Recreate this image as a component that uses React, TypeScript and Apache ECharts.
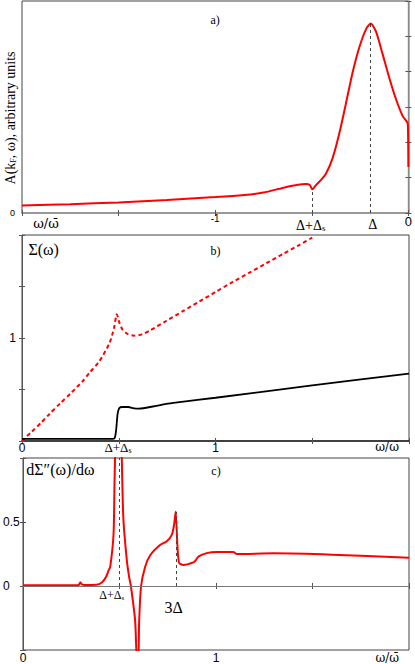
import React, { useEffect, useRef } from 'react';
import * as echarts from 'echarts';

const SERIF = '"Liberation Serif", "Times New Roman", serif';
const SANS = '"Liberation Sans", Arial, sans-serif';

// Panel a: spectral function A(kF, ω)
const aOmega = [-2.0, -1.75, -1.5, -1.25, -1.0, -0.85, -0.75, -0.65, -0.58, -0.53, -0.51, -0.497, -0.478, -0.453, -0.427, -0.393, -0.358, -0.324, -0.289, -0.255, -0.22, -0.195, -0.168, -0.133, -0.099, -0.064, -0.03, -0.01, -0.003, 0.0];
const aSpectral = [0.21, 0.25, 0.30, 0.37, 0.45, 0.51, 0.58, 0.71, 0.79, 0.82, 0.79, 0.67, 0.79, 0.93, 1.11, 1.54, 2.24, 3.08, 3.97, 4.67, 5.19, 5.36, 5.14, 4.49, 3.83, 3.22, 2.75, 2.6, 2.52, 1.30];

// Panel b: Σ(ω) real part (dashed) and imaginary part (solid)
const bOmegaRe = [0, 0.05, 0.1, 0.141, 0.2, 0.25, 0.313, 0.35, 0.4, 0.452, 0.476, 0.49, 0.505, 0.52, 0.545, 0.58, 0.62, 0.659, 0.745, 0.831, 0.917, 1.003, 1.09, 1.176, 1.262, 1.348, 1.435, 1.5];
const bSigmaRe = [0.0, 0.09, 0.18, 0.26, 0.37, 0.46, 0.58, 0.665, 0.775, 0.95, 1.1, 1.23, 1.14, 1.08, 1.04, 1.023, 1.035, 1.07, 1.165, 1.26, 1.355, 1.45, 1.545, 1.635, 1.725, 1.815, 1.905, 1.975];
const bOmegaIm = [0, 0.3, 0.45, 0.477, 0.486, 0.494, 0.503, 0.52, 0.55, 0.572, 0.605, 0.676, 0.745, 0.814, 1.0, 1.5, 2.0];
const bSigmaIm = [0.02, 0.02, 0.02, 0.025, 0.1, 0.26, 0.32, 0.33, 0.33, 0.32, 0.315, 0.335, 0.36, 0.377, 0.42, 0.54, 0.655];

// Panel c: dΣ''(ω)/dω
const cOmega = [0, 0.28, 0.29, 0.297, 0.305, 0.32, 0.38, 0.41, 0.43, 0.443, 0.452, 0.469, 0.474, 0.48, 0.49, 0.505, 0.512, 0.52, 0.538, 0.55, 0.559, 0.581, 0.591, 0.597, 0.602, 0.612, 0.633, 0.659, 0.71, 0.745, 0.771, 0.783, 0.791, 0.8, 0.809, 0.831, 0.883, 0.895, 0.909, 0.952, 1.004, 1.09, 1.107, 1.3, 1.6, 2.0];
const cDeriv = [0.005, 0.005, 0.01, 0.03, 0.012, 0.008, 0.01, 0.03, 0.07, 0.12, 0.15, 0.40, 0.79, 1.2, 1.6, 1.6, 1.0, 0.53, 0.2, 0.07, 0.0, -0.27, -0.6, -0.6, -0.27, 0.0, 0.15, 0.24, 0.32, 0.35, 0.40, 0.48, 0.58, 0.32, 0.18, 0.165, 0.185, 0.2, 0.23, 0.257, 0.265, 0.265, 0.25, 0.255, 0.245, 0.22];

// Marker positions
const aMarks = [{ x: -0.5, top: 0.69 }, { x: -0.195, top: 5.36 }];
const cMarks = [{ x: 0.5, top: 1.0 }, { x: 0.792, top: 0.58 }];

const zip = (xs: number[], ys: number[]) => xs.map((x, i) => [x, ys[i]]);

const RED = '#ff0000';

function xAxisPair(grid: number, min: number, max: number, labels: (v: number) => string, rich: any, lineStyle: any, margin: number) {
  return [
    {
      type: 'value', gridIndex: grid, position: 'bottom', min, max, interval: 0.5,
      axisLine: { show: true, lineStyle },
      axisTick: { show: true, inside: true, length: 3, lineStyle: { color: '#555' } },
      axisLabel: { show: true, margin, formatter: labels, rich, fontFamily: SANS, color: '#000', fontSize: 12, showMinLabel: true, showMaxLabel: true },
      splitLine: { show: false },
    },
    {
      type: 'value', gridIndex: grid, position: 'top', min, max, interval: 0.5,
      axisLine: { show: false },
      axisTick: { show: true, inside: true, length: 3, lineStyle: { color: '#555' } },
      axisLabel: { show: false },
      splitLine: { show: false },
    },
  ];
}

function yAxisPair(grid: number, min: number, max: number, interval: number, labels: (v: number) => string, labelOpts: any, lineStyle: any) {
  return [
    {
      type: 'value', gridIndex: grid, position: 'left', min, max, interval,
      axisLine: { show: true, lineStyle },
      axisTick: { show: true, inside: true, length: 3, lineStyle: { color: '#555' } },
      axisLabel: { show: true, formatter: labels, fontFamily: SANS, color: '#000', showMinLabel: true, showMaxLabel: true, ...labelOpts },
      splitLine: { show: false },
    },
    {
      type: 'value', gridIndex: grid, position: 'right', min, max, interval,
      axisLine: { show: false },
      axisTick: { show: true, inside: true, length: 3, lineStyle: { color: '#555' } },
      axisLabel: { show: false },
      splitLine: { show: false },
    },
  ];
}

const dashMark = {
  silent: true,
  symbol: ['none', 'none'],
  label: { show: false },
  lineStyle: { type: [3, 3], color: '#444', width: 1 },
};

export default function App() {
  const ref = useRef<HTMLDivElement>(null);
  useEffect(() => {
    if (!ref.current) return;
    const chart = echarts.init(ref.current, undefined, { renderer: 'svg' });
    const gridStyle = { show: true, borderColor: '#444', borderWidth: 1, backgroundColor: 'transparent' };
    const option: any = {
      animation: false,
      grid: [
        { left: 22, top: 1, width: 387, height: 212, ...gridStyle },
        { left: 22, top: 235, width: 387, height: 206, ...gridStyle },
        { left: 22, top: 458, width: 387, height: 192, ...gridStyle },
      ],
      xAxis: [
        ...xAxisPair(0, -2, 0, (v: number) => (v === -1 ? '{s|-1}' : v === 0 ? '{b|0}' : ''),
          { s: { fontSize: 10, fontFamily: SANS }, b: { fontSize: 13, fontFamily: SANS, padding: [2, 0, 0, 0] } },
          { color: '#999', width: 2 }, 0),
        ...xAxisPair(1, 0, 2, (v: number) => (v === 0 ? '0' : v === 1 ? '1' : ''), undefined, { color: '#222', width: 1.5 }, 1),
        ...xAxisPair(2, 0, 2, (v: number) => (v === 0 ? '0' : v === 1 ? '1' : ''), undefined, { color: '#555', width: 1 }, 2),
      ],
      yAxis: [
        ...yAxisPair(0, 0, 6, 1, (v: number) => (v === 0 ? '0' : ''), { fontSize: 9, margin: 7 }, { color: '#999', width: 1.5 }),
        ...yAxisPair(1, 0, 2, 0.5, (v: number) => (v === 1 ? '1' : ''), { fontSize: 12, margin: 6 }, { color: '#555', width: 1 }),
        ...yAxisPair(2, -0.5, 1, 0.5, (v: number) => (v === 0.5 ? '0.5' : v === 0 ? '0' : ''), { fontSize: 12, margin: 20, align: 'left' }, { color: '#555', width: 1 }),
      ],
      series: [
        {
          type: 'line', xAxisIndex: 0, yAxisIndex: 0, data: zip(aOmega, aSpectral),
          showSymbol: false, smooth: 0.25, clip: true,
          lineStyle: { color: RED, width: 2 }, itemStyle: { color: RED },
          markLine: { ...dashMark, data: aMarks.map((m) => [{ coord: [m.x, 0] }, { coord: [m.x, m.top] }]) },
        },
        {
          type: 'line', xAxisIndex: 2, yAxisIndex: 2, data: zip(bOmegaRe, bSigmaRe),
          showSymbol: false, smooth: 0.25, clip: true,
          lineStyle: { color: RED, width: 2, type: [4, 3] }, itemStyle: { color: RED },
        },
        {
          type: 'line', xAxisIndex: 2, yAxisIndex: 2, data: zip(bOmegaIm, bSigmaIm),
          showSymbol: false, smooth: 0.25, clip: true,
          lineStyle: { color: '#000', width: 1.8 }, itemStyle: { color: '#000' },
        },
        {
          type: 'line', xAxisIndex: 4, yAxisIndex: 4, data: zip(cOmega, cDeriv),
          showSymbol: false, smooth: 0.25, clip: true,
          lineStyle: { color: RED, width: 2 }, itemStyle: { color: RED }, z: 3,
          markLine: {
            ...dashMark,
            data: [
              { yAxis: 0, lineStyle: { type: 'solid', color: '#777', width: 1 } },
              ...cMarks.map((m) => [{ coord: [m.x, 0] }, { coord: [m.x, m.top] }]),
            ],
          },
        },
      ],
    };
    chart.setOption(option);

    const pa = (x: number, y: number) => chart.convertToPixel({ xAxisIndex: 0, yAxisIndex: 0 }, [x, y]) as number[];
    const pb = (x: number, y: number) => chart.convertToPixel({ xAxisIndex: 2, yAxisIndex: 2 }, [x, y]) as number[];
    const pc = (x: number, y: number) => chart.convertToPixel({ xAxisIndex: 4, yAxisIndex: 4 }, [x, y]) as number[];

    const txt = (p: number[], dx: number, dy: number, text: string, size: number, extra: any = {}) => ({
      type: 'text', x: p[0] + dx, y: p[1] + dy, silent: true,
      style: { text, fontSize: size, fontFamily: SERIF, fill: '#000', align: 'center', verticalAlign: 'middle', ...extra },
    });
    const deltaS = (p: number[], dx: number, dy: number, size: number) => txt(p, dx, dy, '{m|Δ+Δ}{s|s}', size, {
      rich: {
        m: { fontSize: size, fontFamily: SERIF, fill: '#000' },
        s: { fontSize: Math.round(size * 0.62), fontFamily: SERIF, fill: '#000', padding: [Math.round(size * 0.45), 0, 0, 0] },
      },
    });
    const omegaBar = '\u03C9/\u03C9\u0304';
    const OMEGA_FONT = '"DejaVu Serif", serif';

    const graphic = [
      txt(pa(-1, 5.45), 0, 0, 'a)', 12),
      txt(pa(-1.876, 0), 0, 10, omegaBar, 13, { fontFamily: OMEGA_FONT }),
      deltaS(pa(-0.5, 0), -1, 12, 14),
      txt(pa(-0.195, 0), 2, 11, 'Δ', 14),
      {
        type: 'text', x: pa(-2, 2.69)[0] - 12, y: pa(-2, 2.69)[1], rotation: Math.PI / 2, silent: true,
        style: {
          text: '{n|A(k}{s|F}{n|, ω), arbitrary units}', align: 'center', verticalAlign: 'middle',
          rich: {
            n: { fontSize: 14, fontFamily: SERIF, fill: '#000' },
            s: { fontSize: 8, fontFamily: SERIF, fill: '#000', padding: [6, 0, 0, 0] },
          },
        },
      },
      txt(pb(0.033, 1.86), 0, 0, 'Σ(ω)', 16, { align: 'left' }),
      txt(pb(1, 1.84), 0, 0, 'b)', 12),
      deltaS(pb(0.496, 0), 0, 6, 13),
      txt(pb(1.887, 0), 0, 6, omegaBar, 12, { fontFamily: OMEGA_FONT }),
      txt(pc(0.017, 0.91), 0, 0, 'dΣ\u2033(ω)/dω', 16, { align: 'left' }),
      txt(pc(1, 0.9), 0, 0, 'c)', 12),
      deltaS(pc(0.46, 0), 0, 9, 12),
      txt(pc(0.78, 0), 0, 21, '3Δ', 16),
      txt(pc(1.887, -0.5), 0, 8, omegaBar, 12, { fontFamily: OMEGA_FONT }),
    ];
    chart.setOption({ graphic });

    return () => chart.dispose();
  }, []);
  return <div ref={ref} style={{ position: 'absolute', left: 0, top: 0, width: 415, height: 664 }} />;
}
